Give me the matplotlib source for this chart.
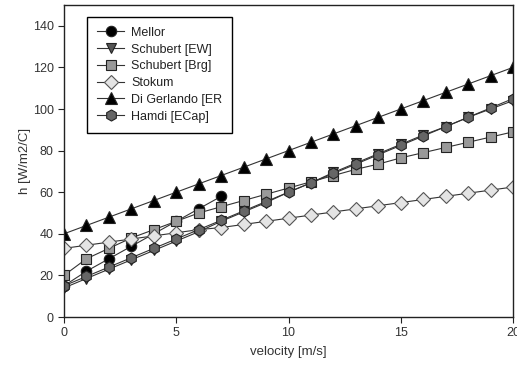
import matplotlib
matplotlib.use("Agg")
import matplotlib.pyplot as plt

plt.rcParams['font.family'] = ['Liberation Sans', 'DejaVu Sans']

velocity = list(range(0, 21))
mellor_v = [0, 1, 2, 3, 4, 5, 6, 7]
mellor = [15, 22, 28, 34, 40, 46, 52, 58]
schubert_ew = [14, 18.5, 23, 27.5, 32, 36.5, 41, 46, 50.5, 55, 60,
               64.5, 69.5, 74, 78.5, 83, 87.5, 91.5, 96, 100, 104]
schubert_brg = [20, 28, 33, 38, 42, 46, 50, 53, 56, 59, 62,
                65, 68, 71, 73.5, 76.5, 79, 81.5, 84, 86.5, 89]
stokum = [33, 34.5, 36, 37.5, 39, 40.5, 42, 43, 44.5, 46, 47.5,
          49, 50.5, 52, 53.5, 55, 56.5, 58, 59.5, 61, 62.5]
di_gerlando = [40, 44, 48, 52, 56, 60, 64, 68, 72, 76, 80,
               84, 88, 92, 96, 100, 104, 108, 112, 116, 120]
hamdi = [15, 19.5, 24, 28.5, 33, 37.5, 42, 46.5, 51, 55.5, 60,
         64.5, 69, 73.5, 78, 82.5, 87, 91.5, 96, 100.5, 105]

labels = ["Mellor", "Schubert [EW]", "Schubert [Brg]", "Stokum",
          "Di Gerlando [ER", "Hamdi [ECap]"]
x_ticks = [0, 5, 10, 15, 20]
y_ticks = [0, 20, 40, 60, 80, 100, 120, 140]

fig = plt.figure(figsize=(5.17, 3.65), dpi=100)
ax = fig.add_axes([64/517, 48/365, 449/517, 312/365])

lc = '#333333'
common = dict(color=lc, linewidth=0.8, markeredgecolor='#222222', markeredgewidth=0.8)
ax.plot(mellor_v, mellor, marker='o', markersize=7.5, markerfacecolor='black', label=labels[0], **common)
ax.plot(velocity, schubert_ew, marker='v', markersize=7.5, markerfacecolor='#555555', label=labels[1], **common)
ax.plot(velocity, schubert_brg, marker='s', markersize=7, markerfacecolor='#999999', label=labels[2], **common)
ax.plot(velocity, stokum, marker='D', markersize=7, markerfacecolor='#e4e4e4', markeredgecolor='#555555', color=lc, linewidth=0.8, markeredgewidth=0.8, label=labels[3])
ax.plot(velocity, di_gerlando, marker='^', markersize=8, markerfacecolor='black', label=labels[4], **common)
ax.plot(velocity, hamdi, marker='h', markersize=8, markerfacecolor='#666666', label=labels[5], **common)

ax.set_xlim(0, 20)
ax.set_ylim(0, 150)
ax.set_xticks(x_ticks)
ax.set_yticks(y_ticks)
ax.tick_params(direction='out', length=4, width=0.8, labelsize=9, colors='#222222', labelcolor='#333333')
for s in ax.spines.values():
    s.set_linewidth(1.0)
    s.set_color('#222222')

ax.set_xlabel("velocity [m/s]", fontsize=9.5, color='#333333', labelpad=5)
ax.set_ylabel("h [W/m2/C]", fontsize=9.5, color='#333333', labelpad=1)

leg = ax.legend(loc='upper left', bbox_to_anchor=(0.051, 0.962), borderaxespad=0,
                fontsize=9, frameon=True, fancybox=False, edgecolor='black',
                framealpha=1, labelspacing=0.38, handlelength=2.2, handletextpad=0.55,
                borderpad=0.8)
leg.get_frame().set_linewidth(1.0)
for t in leg.get_texts():
    t.set_color('#222222')

fig.savefig("out.png", dpi=100)
